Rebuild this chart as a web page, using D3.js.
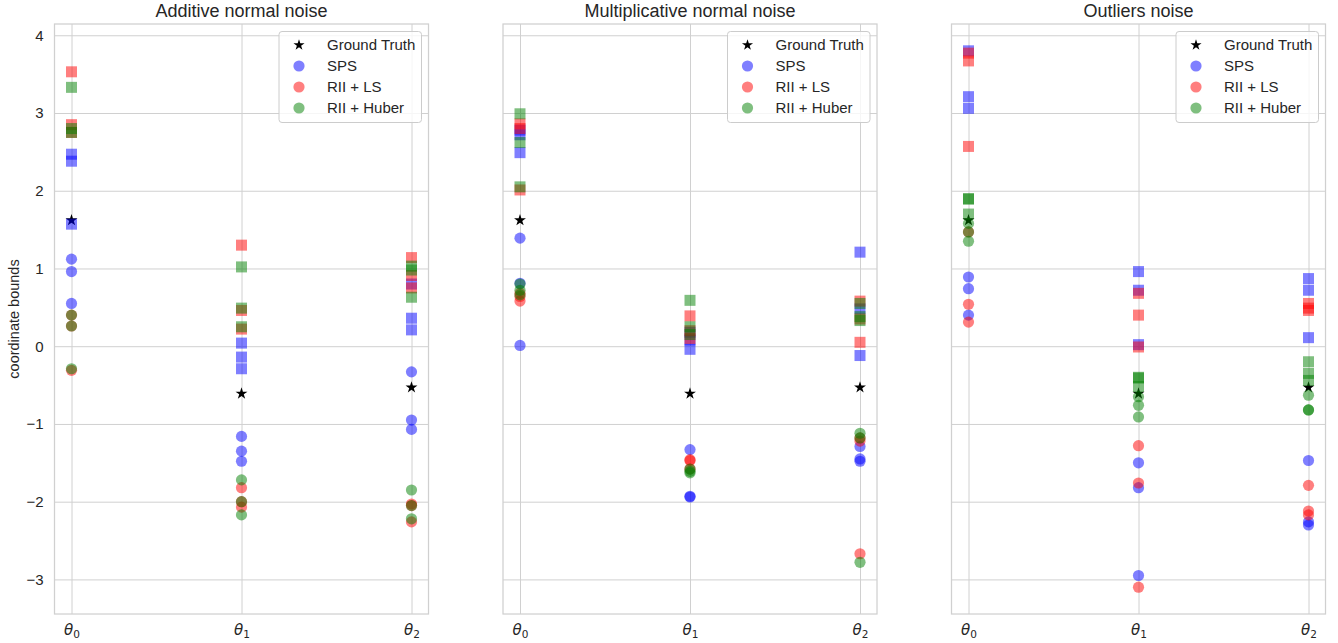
<!DOCTYPE html>
<html>
<head>
<meta charset="utf-8">
<script src="https://cdn.jsdelivr.net/npm/d3@7"></script>
<style>
  body { margin: 0; background: #fff; }
  svg text { font-family: "Liberation Sans", Arial, sans-serif; fill: #262626; }
</style>
</head>
<body>
<svg id="chart" width="1338" height="643"></svg>
<script>
(() => {
const panelTitles = ["Additive normal noise", "Multiplicative normal noise", "Outliers noise"];
const params = ["0", "1", "2"];
const groundTruth = [1.62, -0.61, -0.53];
const yTicks = [-3, -2, -1, 0, 1, 2, 3, 4];

// bounds[panel][param] -> three runs each
const spsUpper = [
    [[2.47, 2.38, 1.57], [0.04, -0.14, -0.29], [0.80, 0.36, 0.21]],
    [[2.78, 2.72, 2.49], [0.18, 0.08, -0.04], [1.21, 0.48, -0.12]],
    [[3.80, 3.21, 3.06], [0.96, 0.72, 0.02], [0.87, 0.72, 0.11]]
];
const spsLower = [
    [[1.12, 0.96, 0.55], [-1.16, -1.35, -1.48], [-0.33, -0.95, -1.07]],
    [[1.39, 0.81, 0.01], [-1.33, -1.93, -1.94], [-1.29, -1.45, -1.48]],
    [[0.89, 0.74, 0.40], [-1.50, -1.82, -2.95], [-1.47, -2.26, -2.30]]
];
const lsUpper = [
    [[3.53, 2.85, 2.75], [1.30, 0.46, 0.22], [1.14, 0.91, 0.75]],
    [[2.86, 2.80, 2.01], [0.39, 0.20, 0.10], [0.58, 0.35, 0.05]],
    [[3.77, 3.67, 2.57], [0.68, 0.40, -0.01], [0.55, 0.49, 0.46]]
];
const lsLower = [
    [[0.40, 0.26, -0.31], [-1.82, -2.00, -2.07], [-2.03, -2.05, -2.26]],
    [[0.68, 0.64, 0.58], [-1.46, -1.47, -1.58], [-1.18, -1.22, -2.67]],
    [[1.47, 0.54, 0.31], [-1.28, -1.76, -3.10], [-1.79, -2.12, -2.17]]
];
const huberUpper = [
    [[3.33, 2.80, 2.75], [1.02, 0.49, 0.25], [1.03, 0.98, 0.63]],
    [[2.99, 2.62, 2.05], [0.59, 0.25, 0.15], [0.55, 0.38, 0.33]],
    [[1.90, 1.89, 1.70], [-0.40, -0.41, -0.52], [-0.20, -0.35, -0.44]]
];
const huberLower = [
    [[0.40, 0.26, -0.29], [-1.72, -2.00, -2.17], [-1.85, -2.05, -2.22]],
    [[0.80, 0.72, 0.66], [-1.58, -1.61, -1.63], [-1.12, -1.18, -2.78]],
    [[1.58, 1.47, 1.35], [-0.65, -0.76, -0.91], [-0.63, -0.82, -0.82]]
];

const methods = [
    { label: "SPS", color: "blue", upper: spsUpper, lower: spsLower },
    { label: "RII + LS", color: "red", upper: lsUpper, lower: lsLower },
    { label: "RII + Huber", color: "green", upper: huberUpper, lower: huberLower }
];

const svg = d3.select("#chart");
const panelLefts = [54.5, 503, 951.5];
const panelWidth = 374;
const top = 24, bottom = 614;
const gridColor = "#d0d0d0";

// shared y domain with 5% margins like matplotlib
const allVals = [groundTruth, spsUpper, spsLower, lsUpper, lsLower, huberUpper, huberLower].flat(3);
const [yMin, yMax] = d3.extent(allVals);
const pad = (yMax - yMin) * 0.05;
const y = d3.scaleLinear().domain([yMin - pad, yMax + pad]).range([bottom, top]);

panelTitles.forEach((title, p) => {
    const left = panelLefts[p];
    const x = d3.scaleLinear().domain([-0.1, 2.1]).range([left, left + panelWidth]);
    const g = svg.append("g");

    // grid
    g.append("g")
        .attr("transform", `translate(${left},0)`)
        .call(d3.axisLeft(y).tickValues(yTicks).tickSize(-panelWidth).tickFormat(""))
        .call(a => a.select(".domain").remove())
        .call(a => a.selectAll("line").attr("stroke", gridColor).attr("stroke-width", 1));
    g.append("g")
        .attr("transform", `translate(0,${bottom})`)
        .call(d3.axisBottom(x).tickValues([0, 1, 2]).tickSize(-(bottom - top)).tickFormat(""))
        .call(a => a.select(".domain").remove())
        .call(a => a.selectAll("line").attr("stroke", gridColor).attr("stroke-width", 1));

    // frame
    g.append("rect")
        .attr("x", left).attr("y", top)
        .attr("width", panelWidth).attr("height", bottom - top)
        .attr("fill", "none").attr("stroke", gridColor).attr("stroke-width", 1.25);

    // x tick labels: theta with subscript
    const xt = g.append("g")
        .attr("transform", `translate(0,${bottom})`)
        .call(d3.axisBottom(x).tickValues([0, 1, 2]).tickSize(0).tickFormat(""));
    xt.select(".domain").remove();
    xt.selectAll(".tick text").each(function (d) {
        const t = d3.select(this)
            .attr("font-size", 15)
            .style("font-family", "'DejaVu Sans', sans-serif")
            .attr("text-anchor", "middle")
            .attr("y", 21).attr("dy", 0);
        t.append("tspan").attr("font-style", "italic").text("θ");
        t.append("tspan").attr("font-size", 10.5).attr("dy", 3).text(params[d]);
    });

    // y tick labels only on first panel
    if (p === 0) {
        g.append("g")
            .attr("transform", `translate(${left},0)`)
            .call(d3.axisLeft(y).tickValues(yTicks).tickSize(0).tickPadding(11))
            .call(a => a.select(".domain").remove())
            .call(a => a.selectAll("text").attr("font-size", 15).style("fill", "#262626")
                .style("font-family", "'Liberation Sans', Arial, sans-serif"));
        svg.append("text")
            .attr("transform", `translate(19,${(top + bottom) / 2}) rotate(-90)`)
            .attr("text-anchor", "middle")
            .attr("font-size", 14.5)
            .text("coordinate bounds");
    }

    // title
    svg.append("text")
        .attr("x", left + panelWidth / 2).attr("y", 17)
        .attr("text-anchor", "middle")
        .attr("font-size", 18)
        .text(title);

    // ground truth stars
    const star = d3.symbol().type(d3.symbolStar).size(44);
    g.selectAll(".gt").data(groundTruth).enter().append("path")
        .attr("d", star)
        .attr("transform", (d, i) => `translate(${x(i)},${y(d)})`)
        .attr("fill", "black");

    // method bounds
    methods.forEach(m => {
        const upper = m.upper[p].flatMap((vals, i) => vals.map(v => ({ i, v })));
        const lower = m.lower[p].flatMap((vals, i) => vals.map(v => ({ i, v })));
        g.append("g").selectAll("rect").data(upper).enter().append("rect")
            .attr("x", d => x(d.i) - 5.5).attr("y", d => y(d.v) - 5.5)
            .attr("width", 11).attr("height", 11)
            .attr("fill", m.color).attr("fill-opacity", 0.5);
        g.append("g").selectAll("circle").data(lower).enter().append("circle")
            .attr("cx", d => x(d.i)).attr("cy", d => y(d.v)).attr("r", 5.6)
            .attr("fill", m.color).attr("fill-opacity", 0.5);
    });

    // legend
    const lgW = 142.5, lgH = 91;
    const lg = svg.append("g")
        .attr("transform", `translate(${left + panelWidth - 7 - lgW},${top + 7.5})`);
    lg.append("rect")
        .attr("width", lgW).attr("height", lgH).attr("rx", 3)
        .attr("fill", "white").attr("fill-opacity", 0.8)
        .attr("stroke", "#cccccc").attr("stroke-width", 1);
    const entries = [{ label: "Ground Truth", color: "black", star: true }]
        .concat(methods.map(m => ({ label: m.label, color: m.color })));
    entries.forEach((e, k) => {
        const row = 13.5 + k * 21;
        if (e.star) {
            lg.append("path").attr("d", d3.symbol().type(d3.symbolStar).size(38))
                .attr("transform", `translate(20,${row})`).attr("fill", "black");
        } else {
            lg.append("circle").attr("cx", 20).attr("cy", row).attr("r", 5.6)
                .attr("fill", e.color).attr("fill-opacity", 0.5);
        }
        lg.append("text").attr("x", 48).attr("y", row).attr("dy", "0.35em")
            .attr("font-size", 15).text(e.label);
    });
});
})();
</script>
</body>
</html>
